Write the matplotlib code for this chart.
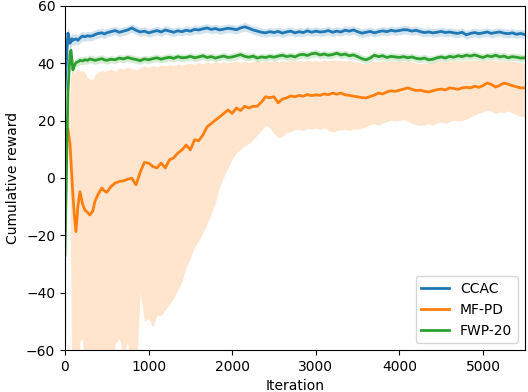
import numpy as np
import matplotlib
matplotlib.use("Agg")
import matplotlib.pyplot as plt

# ---------------- data ----------------
iters_early = [0, 20, 36, 60, 72, 84, 95, 110, 131, 155, 179, 210, 239, 270, 298, 334, 358, 400, 442, 470]
iters_main = list(range(500, 5501, 50))
iterations = iters_early + iters_main

ccac_mean = [31, 42, 50.5, 47, 47.5, 48.5, 48, 48.2, 48.5, 48.0, 48.8, 49.5, 49.2, 49.6, 49.4, 49.6, 50.0, 50.4, 50.6, 50.2,
             50.6, 51.0, 51.4, 50.8, 51.2, 51.6, 52.3, 51.5, 50.9, 51.2,
             50.6, 51.0, 51.4, 50.9, 51.6, 51.2, 50.8, 51.3, 51.0, 51.5,
             51.2, 51.8, 51.6, 52.0, 52.3, 51.8, 52.1, 51.6, 51.9, 52.2,
             52.0, 51.7, 52.3, 52.7, 52.2, 51.6, 51.2, 50.8, 50.6, 51.0,
             50.7, 51.1, 50.5, 50.9, 51.2, 50.6, 51.0, 50.7, 51.3, 50.8,
             51.2, 50.9, 51.0, 51.4, 50.8, 51.2, 50.9, 51.5, 51.2, 51.6,
             51.0, 50.5, 50.8, 51.1, 50.6, 51.0, 51.3, 51.0, 51.5, 51.2,
             51.4, 51.7, 51.6, 51.2, 51.5, 51.0, 50.7, 50.9, 50.6, 50.8,
             51.1, 50.7, 50.9, 50.6, 50.4, 50.8, 49.9, 50.4, 50.7, 50.3,
             50.6, 50.9, 50.4, 50.7, 50.9, 50.5, 50.3, 50.6, 50.1, 50.4,
             50.0]
ccac_spread_early = [0.5, 3.0, 3.0, 2.5, 2.2, 2.0, 2.0, 1.8, 1.8, 1.8, 1.7, 1.7, 1.6, 1.6, 1.6, 1.6, 1.6, 1.6, 1.6, 1.6]
ccac_spread_main = 1.5

fwp_mean = [-27, 5, 30, 43, 44.5, 41, 37.7, 39, 40.2, 40.5, 41.0, 40.8, 41.2, 41.0, 41.5, 41.2, 41.0, 41.3, 41.6, 41.2,
            41.0, 41.4, 41.2, 41.8, 41.5, 42.0, 41.6, 41.3, 40.9, 41.5,
            41.2, 41.6, 41.9, 41.4, 41.8, 42.1, 41.7, 42.3, 41.9, 42.0,
            42.4, 41.9, 42.2, 42.6, 42.0, 42.3, 41.8, 42.2, 42.5, 42.0,
            42.2, 42.6, 43.0, 42.4, 42.1, 42.5, 41.8, 42.2, 42.0, 42.4,
            42.1, 42.5, 42.8, 42.3, 42.6, 42.2, 42.9, 43.1, 42.7, 43.3,
            43.5, 42.9, 43.2, 42.8, 43.0, 43.5, 42.9, 43.2, 42.6, 42.9,
            42.3, 41.6, 41.2, 41.8, 42.8, 42.3, 42.6, 42.0, 42.4, 42.2,
            42.0, 42.3, 41.9, 42.2, 41.7, 41.5, 41.8, 41.2, 41.4, 41.9,
            42.2, 41.8, 42.4, 42.1, 42.6, 42.3, 42.8, 42.5, 42.9, 42.4,
            42.0, 42.6, 42.3, 42.8, 42.2, 42.5, 41.9, 42.3, 42.1, 41.8,
            41.9]
fwp_spread_early = [0.5, 1.0, 1.5, 1.5, 1.5, 1.5, 1.5, 1.5, 1.4, 1.4, 1.4, 1.4, 1.4, 1.4, 1.4, 1.4, 1.4, 1.4, 1.4, 1.4]
fwp_spread_main = 1.3

mfpd_mean = [17, 17.5, 17, 12, 6, 0, -6, -12, -18.7, -10, -4.8, -9, -11.2, -12, -12.9, -11.5, -8.2, -5.5, -3.5, -4.5,
             -5.0, -3.0, -1.8, -1.2, -1.0, -0.4, -0.1, -2.4, 2.0, 5.4,
             5.2, 4.0, 3.5, 5.2, 3.5, 6.3, 7.0, 8.7, 9.8, 11.5,
             9.8, 13.3, 13.0, 15.0, 17.8, 19.0, 20.2, 21.3, 22.5, 23.7,
             22.5, 24.4, 23.5, 25.0, 24.4, 25.0, 25.0, 26.5, 28.3, 28.0,
             28.3, 26.2, 27.5, 27.9, 28.6, 28.3, 28.8, 28.5, 29.1, 28.7,
             29.0, 28.8, 29.3, 29.0, 29.6, 29.2, 29.6, 29.0, 28.8, 28.5,
             28.3, 28.0, 27.9, 28.4, 28.9, 29.6, 29.3, 30.0, 30.4, 30.2,
             30.6, 31.0, 31.4, 30.9, 30.5, 30.6, 30.2, 30.0, 30.4, 30.8,
             31.0, 30.7, 31.4, 31.2, 30.9, 31.4, 31.6, 31.4, 32.0, 31.6,
             32.2, 33.1, 32.6, 31.7, 32.3, 33.1, 32.7, 32.2, 31.8, 31.4,
             31.4]
mfpd_upper = [17, 17.5, 17, 30, 36, 38, 37, 36.5, 37.5, 38, 37.2, 37.5, 36.8, 35, 34.5, 34.2, 36, 37, 37.5, 37.2,
              37.5, 38.0, 37.2, 38.4, 38.0, 38.6, 38.2, 37.8, 38.5, 39.0,
              38.6, 39.2, 38.8, 39.4, 39.0, 39.6, 39.2, 39.8, 39.4, 39.8,
              40.0, 39.6, 40.2, 39.8, 40.4, 40.0, 40.5, 40.1, 40.6, 40.2,
              40.4, 40.8, 40.3, 40.7, 40.2, 40.6, 40.9, 40.4, 40.8, 40.5,
              40.9, 40.5, 41.0, 40.6, 41.2, 40.8, 41.0, 40.6, 41.1, 40.7,
              41.0, 40.6, 41.2, 40.8, 41.3, 40.9, 41.1, 40.7, 41.0, 40.6,
              40.4, 40.0, 39.8, 40.3, 40.8, 40.5, 40.9, 40.6, 41.0, 40.7,
              40.9, 40.5, 40.8, 40.4, 40.1, 39.8, 40.2, 39.9, 40.3, 40.6,
              40.8, 40.5, 41.0, 40.7, 41.1, 40.8, 41.2, 40.9, 41.3, 41.0,
              40.8, 41.2, 40.9, 41.1, 40.7, 41.0, 40.5, 40.8, 40.4, 40.2,
              40.0]
mfpd_lower = [17, 17.5, 17, -10, -40, -90, -70, -90, -85, -75, -57, -56, -70, -80, -85, -70, -62, -80, -75, -80,
              -85, -80, -58, -56, -62, -57, -75, -70, -40, -50,
              -49, -52, -48, -48, -46, -44, -42, -39, -36, -31,
              -28, -24, -22, -19, -16, -12.5, -8.5, -3, 0.5, 3.5,
              6.5, 8.7, 10.0, 11.2, 12.0, 13.5, 15.0, 16.5, 18.5, 17.5,
              15.5, 14.0, 14.5, 15.7, 16.2, 16.8, 17.0, 16.5, 17.2, 17.0,
              17.4, 16.8, 17.5, 16.6, 16.0, 16.4, 16.8, 17.0, 16.5, 17.2,
              17.0, 17.4, 17.8, 18.5, 19.0, 18.4, 19.2, 19.6, 20.2, 19.8,
              20.0, 20.4, 19.8, 19.0, 18.6, 18.2, 18.5, 18.8, 18.5, 19.2,
              19.5, 19.0, 19.6, 20.2, 19.8, 20.0, 20.5, 21.2, 22.0, 22.6,
              23.0, 23.7, 23.2, 22.5, 23.0, 22.7, 23.4, 22.6, 22.0, 21.5,
              21.3]

series_names = ["CCAC", "MF-PD", "FWP-20"]
x_ticks = [0, 1000, 2000, 3000, 4000, 5000]
y_ticks = [-60, -40, -20, 0, 20, 40, 60]

# ---------------- plotting ----------------
x = np.array(iterations, dtype=float)
ccac = np.array(ccac_mean)
fwp = np.array(fwp_mean)
mf = np.array(mfpd_mean)
ccac_sd = np.array(ccac_spread_early + [ccac_spread_main] * len(iters_main))
fwp_sd = np.array(fwp_spread_early + [fwp_spread_main] * len(iters_main))

c_blue, c_orange, c_green = "#1f77b4", "#ff7f0e", "#2ca02c"

fig = plt.figure(figsize=(5.28, 3.92), dpi=100)
ax = fig.add_axes([0.123, 0.107, 0.871, 0.878])

ax.fill_between(x, mfpd_lower, mfpd_upper, color=c_orange, alpha=0.2, linewidth=0)
ax.fill_between(x, ccac - ccac_sd, ccac + ccac_sd, color=c_blue, alpha=0.2, linewidth=0)
ax.fill_between(x, fwp - fwp_sd, fwp + fwp_sd, color=c_green, alpha=0.2, linewidth=0)

ax.plot(x, ccac, color=c_blue, lw=2, label=series_names[0])
ax.plot(x, mf, color=c_orange, lw=2, label=series_names[1])
ax.plot(x, fwp, color=c_green, lw=2, label=series_names[2])

ax.set_xlim(0, 5500)
ax.set_ylim(-60, 60)
ax.set_xticks(x_ticks)
ax.set_yticks(y_ticks)
ax.set_xlabel("Iteration")
ax.set_ylabel("Cumulative reward")
ax.legend(loc="lower right")

fig.savefig("out.png", dpi=100)
